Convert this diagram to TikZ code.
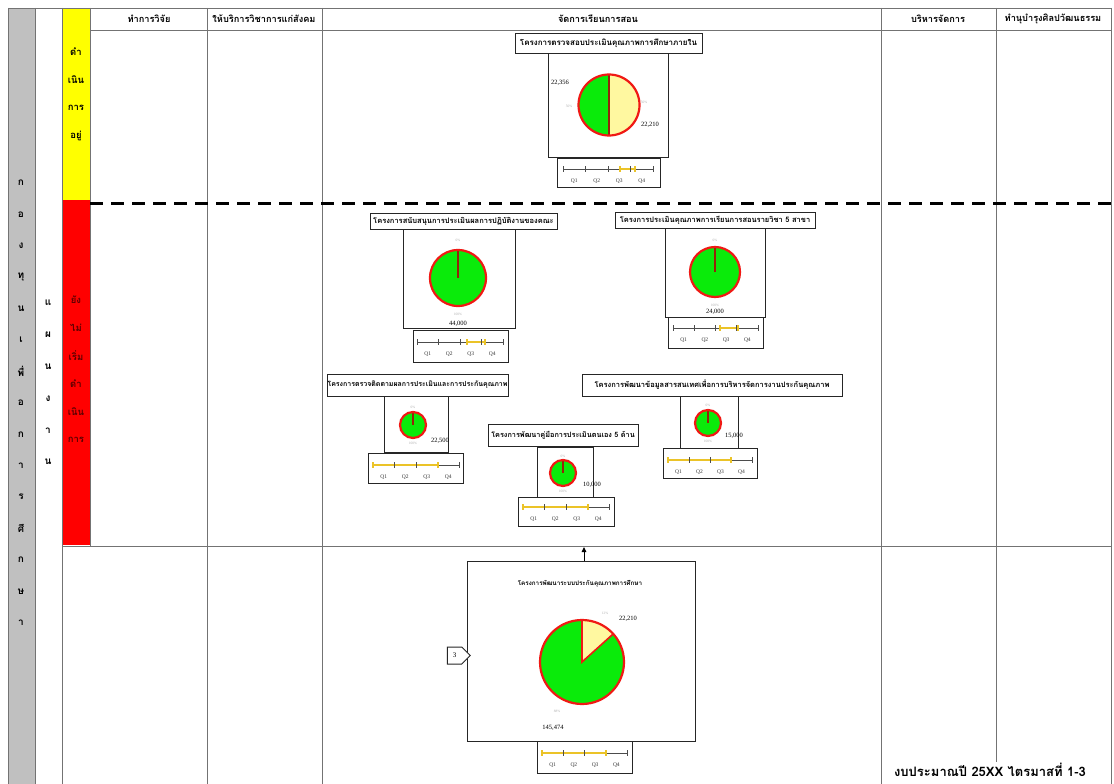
\documentclass[tikz,border=0pt]{standalone}
\usepackage{fontspec}
\setmainfont{Liberation Serif}
\newfontfamily\thai[Script=Thai]{Loma}
\usetikzlibrary{shapes.symbols,arrows.meta,calc}
\definecolor{pgreen}{RGB}{10,235,10}
\definecolor{pyellow}{RGB}{255,248,160}
\definecolor{pred}{RGB}{240,25,20}
\definecolor{psep}{RGB}{150,35,10}
\definecolor{tlyel}{RGB}{235,195,40}
\definecolor{colgray}{RGB}{192,192,192}
\definecolor{colyel}{RGB}{255,255,0}
\definecolor{colred}{RGB}{255,0,0}
\newcommand{\qtl}[5]{%
  \pgfmathsetmacro{\qd}{(#2-#1)/4}
  \draw[tlbase] (#1,#3) -- (#2,#3);
  \draw[tlyel] (#4,#3) -- (#5,#3);
  \foreach \i in {0,...,4}{\pgfmathsetmacro{\xx}{#1+\i*\qd}\draw[tltick] (\xx,#3-3) -- (\xx,#3+3);}
  \draw[tlyel] (#4,#3-3) -- (#4,#3+3);
  \draw[tlyel] (#5,#3-3) -- (#5,#3+3);
  \foreach \i in {1,...,4}{\pgfmathsetmacro{\xx}{#1+(\i-0.5)*\qd}\node[qlab] at (\xx,#3+12) {Q\i};}
}
\newcommand{\fullpie}[3]{%
  \fill[pgreen] (#1,#2) circle[radius=#3pt];
  \draw[psep, line width=1.4pt] (#1,#2) -- ++(90:#3pt);
  \draw[pred, line width=2.2pt] (#1,#2) circle[radius=#3pt];
}
\begin{document}
\begin{tikzpicture}[x=1pt,y=-1pt,
  gridln/.style={draw=black!55, line width=0.9pt},
  titlebox/.style={draw=black!85, line width=0.9pt, fill=white, inner sep=0pt, font=\thai\bfseries\fontsize{7.5}{8}\selectfont},
  chartbox/.style={draw=black!85, line width=1pt, fill=white, inner sep=0pt},
  tlbox/.style={draw=black!85, line width=1pt, fill=white, inner sep=0pt},
  tlbase/.style={draw=black!70, line width=0.8pt},
  tlyel/.style={draw=tlyel, line width=1.3pt},
  tltick/.style={draw=black!70, line width=0.8pt},
  qlab/.style={font=\fontsize{5.5}{6}\selectfont, text=black!80, inner sep=0pt},
  val/.style={font=\fontsize{6.5}{7}\selectfont, inner sep=0pt},
  pct/.style={font=\fontsize{3.5}{4}\selectfont, text=black!30, inner sep=0pt},
  hdr/.style={font=\thai\bfseries\fontsize{9.2}{10}\selectfont, inner sep=0pt},
  vlet/.style={font=\thai\bfseries\fontsize{10}{11}\selectfont, inner sep=0pt},
  ylet/.style={font=\thai\bfseries\fontsize{9.5}{10}\selectfont, inner sep=0pt},
]
\useasboundingbox (0,0) rectangle (1114,784);
\fill[white] (0,0) rectangle (1114,784);
% columns
\fill[colgray] (8,8) rectangle (35,784);
\fill[colyel] (62,8) rectangle (90,200);
\fill[colred] (62,200) rectangle (90,545);
\draw[gridln] (8,8) -- (1111,8);
\foreach \xv in {8,35,62,207,322,881,1111}{\draw[gridln] (\xv,8) -- (\xv,784);}
\draw[gridln] (996,8) -- (996,762);
\draw[gridln] (90,8) -- (90,546);
\draw[gridln] (90,30) -- (1111,30);
\draw[gridln] (62,546) -- (1111,546);
\draw[line width=3pt, dash pattern=on 13pt off 8pt] (90,203) -- (1114,203);
% headers
\node[hdr] (h1) at (149,19) {ทำการวิจัย};
\node[hdr] (h2) at (264,19) {ให้บริการวิชาการแก่สังคม};
\node[hdr] (h3) at (598,19) {จัดการเรียนการสอน};
\node[hdr] (h4) at (938,19) {บริหารจัดการ};
\node[hdr] (h5) at (1053,19) {ทำนุบำรุงศิลปวัฒนธรรม};
% vertical letters
\foreach \c [count=\i from 0] in {ก,อ,ง,ทุ,น,เ,พื่,อ,ก,า,ร,ศึ,ก,ษ,า}
  {\node[vlet] (g\i) at (21,{183+31.4*\i}) {\c};}
\foreach \c [count=\i from 0] in {แ,ผ,น,ง,า,น}
  {\node[vlet] (p\i) at (48,{303+31.8*\i}) {\c};}
\foreach \c [count=\i from 0] in {ดำ,เนิน,การ,อยู่}
  {\node[ylet] (y\i) at (76,{52+28*\i}) {\c};}
\foreach \c [count=\i from 0] in {ยัง,ไม่,เริ่ม,ดำ,เนิน,การ}
  {\node[ylet, text=red!35!black] (r\i) at (76,{300+28*\i}) {\c};}

% ---- project 1 (in progress)
\node[chartbox, minimum width=120pt, minimum height=104pt] (c1) at (608,105) {};
\node[titlebox, font=\thai\bfseries\fontsize{8}{9}\selectfont, minimum width=187pt, minimum height=20pt] (t1) at (608.5,43) {โครงการตรวจสอบประเมินคุณภาพการศึกษาภายใน};
\fill[pyellow] (609,105) -- ++(90:30.5pt) arc[start angle=90,end angle=-90,radius=30.5pt] -- cycle;
\fill[pgreen] (609,105) -- ++(90:30.5pt) arc[start angle=90,end angle=270,radius=30.5pt] -- cycle;
\draw[psep, line width=1.6pt] (609,105) ++(90:30.5pt) -- ++(270:61pt);
\draw[pred, line width=2.2pt] (609,105) circle[radius=30.5pt];
\node[val] (v1a) at (560,83) {22,356};
\node[val] (v1b) at (650,125) {22,210};
\node[pct] at (569,106) {50\%};
\node[pct] at (644,102) {50\%};
\node[tlbox, minimum width=103pt, minimum height=29pt] (q1) at (608.5,172.5) {};
\qtl{563}{653}{169}{620}{635}

% ---- project 2 (44,000)
\node[chartbox, minimum width=112pt, minimum height=100pt] (c2) at (459,278) {};
\node[titlebox, minimum width=187pt, minimum height=16pt] (t2) at (463.5,221) {โครงการสนับสนุนการประเมินผลการปฏิบัติงานของคณะ};
\fullpie{458}{278}{28}
\node[pct] at (458,240) {0\%};
\node[pct] at (458,314) {100\%};
\node[val] (v2) at (458,324) {44,000};
\node[tlbox, minimum width=95pt, minimum height=32pt] (q2) at (460.5,346) {};
\qtl{417}{503}{342}{467}{485}

% ---- project 3 (24,000)
\node[chartbox, minimum width=100pt, minimum height=89pt] (c3) at (715,272.5) {};
\node[titlebox, minimum width=200pt, minimum height=16pt] (t3) at (715,220.5) {โครงการประเมินคุณภาพการเรียนการสอนรายวิชา 5 สาขา};
\fullpie{715}{272}{25}
\node[pct] at (715,240) {0\%};
\node[pct] at (715,305) {100\%};
\node[val] (v3) at (715,312) {24,000};
\node[tlbox, minimum width=95pt, minimum height=31pt] (q3) at (715.5,332.5) {};
\qtl{673}{758}{328}{720}{738}

% ---- project 4 (22,500)
\node[chartbox, minimum width=64pt, minimum height=56pt] (c4) at (416,424) {};
\node[titlebox, font=\thai\bfseries\fontsize{7}{8}\selectfont, minimum width=181pt, minimum height=22pt] (t4) at (417.5,385) {โครงการตรวจติดตามผลการประเมินและการประกันคุณภาพ};
\fullpie{413}{425}{13}
\node[pct] at (413,407) {0\%};
\node[pct] at (413,443) {100\%};
\node[val] (v4) at (440,441) {22,500};
\node[tlbox, minimum width=95pt, minimum height=30pt] (q4) at (415.5,468) {};
\qtl{373}{459}{465}{373}{438}

% ---- project 5 (10,000)
\node[chartbox, minimum width=56pt, minimum height=50pt] (c5) at (565,472) {};
\node[titlebox, font=\thai\bfseries\fontsize{7.3}{8}\selectfont, minimum width=150pt, minimum height=22pt] (t5) at (563,435) {โครงการพัฒนาคู่มือการประเมินตนเอง 5 ด้าน};
\fullpie{563}{473}{13}
\node[pct] at (563,456) {0\%};
\node[pct] at (563,491) {100\%};
\node[val] (v5) at (592,485) {10,000};
\node[tlbox, minimum width=96pt, minimum height=29pt] (q5) at (566,511.5) {};
\qtl{523}{609}{507}{523}{588}

% ---- project 6 (15,000)
\node[chartbox, minimum width=58pt, minimum height=52pt] (c6) at (709,422) {};
\node[titlebox, minimum width=260pt, minimum height=22pt] (t6) at (712,385) {โครงการพัฒนาข้อมูลสารสนเทศเพื่อการบริหารจัดการงานประกันคุณภาพ};
\fullpie{708}{423}{13}
\node[pct] at (708,405) {0\%};
\node[pct] at (708,441) {100\%};
\node[val] (v6) at (734,436) {15,000};
\node[tlbox, minimum width=94pt, minimum height=30pt] (q6) at (710,463) {};
\qtl{668}{752}{460}{668}{731}

% ---- bottom summary
\node[chartbox, minimum width=228pt, minimum height=180pt] (b7) at (581,651) {};
\node[hdr, font=\thai\bfseries\fontsize{6.3}{7}\selectfont] (b7t) at (580,584) {โครงการพัฒนาระบบประกันคุณภาพการศึกษา};
\fill[pyellow] (582,662) -- ++(90:42pt) arc[start angle=90,end angle=42,radius=42pt] -- cycle;
\fill[pgreen] (582,662) -- ++(42:42pt) arc[start angle=42,end angle=-270,radius=42pt] -- cycle;
\draw[pred, line width=1.6pt] (582,662) ++(90:42pt) -- (582,662) -- ++(42:42pt);
\draw[pred, line width=2.2pt] (582,662) circle[radius=42pt];
\node[val] (v7a) at (628,619) {22,210};
\node[pct] at (605,613) {12\%};
\node[val] (v7b) at (553,728) {145,474};
\node[pct] at (557,711) {88\%};
\node[tlbox, minimum width=95pt, minimum height=32pt] (q7) at (584.5,757) {};
\qtl{542}{627}{753}{542}{606}
\node[signal, signal to=east, draw=black!85, line width=1pt, fill=white, minimum width=23pt, minimum height=17pt, inner sep=1pt, font=\fontsize{7}{8}\selectfont] (tag) at (454.5,655.5) {3};
\coordinate (arrtop) at (584,547);
\draw[line width=1pt, -{Triangle[length=5pt,width=4.5pt]}] (b7.north -| arrtop) -- (arrtop);

% footer
\node[font=\thai\bfseries\fontsize{13}{14}\selectfont, inner sep=0pt] (foot) at (990,770) {งบประมาณปี 25XX ไตรมาสที่ 1-3};
\end{tikzpicture}
\end{document}
